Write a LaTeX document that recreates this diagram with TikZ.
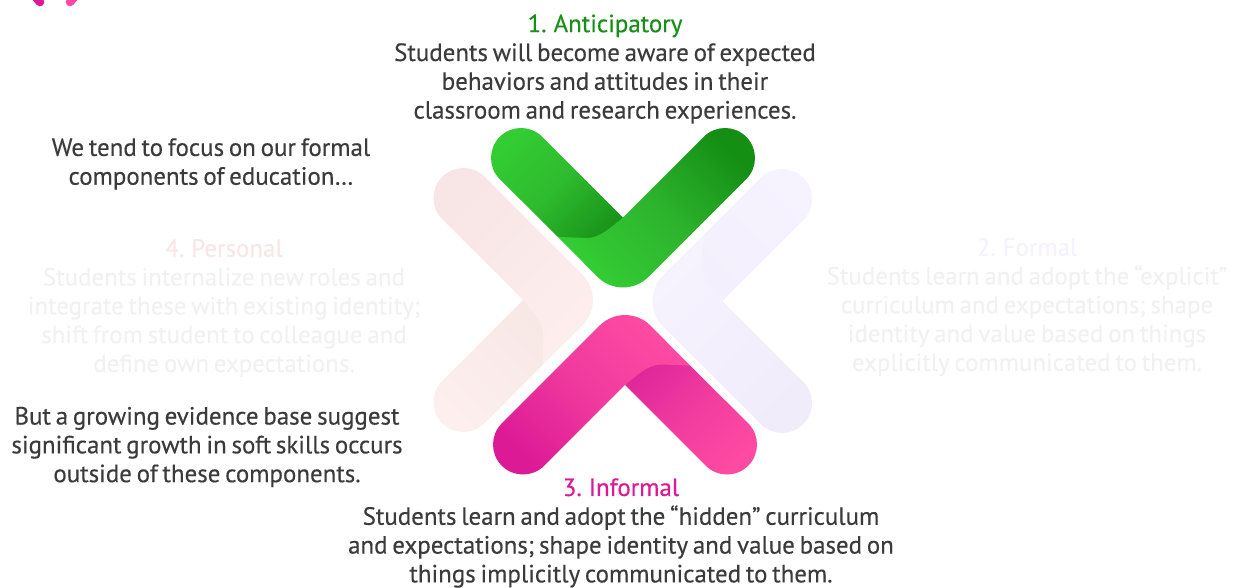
\documentclass[tikz,border=0pt]{standalone}
\usepackage{fontspec}
\setmainfont{PT Sans}[FakeBold=0.35,WordSpace=0.72]
\definecolor{txt}{HTML}{3B3B3B}
\definecolor{faint}{HTML}{F1F1F1}
\definecolor{gt}{HTML}{169016}
\definecolor{pt}{HTML}{DC1A96}
\definecolor{rt}{HTML}{FAE6E6}
\definecolor{lt}{HTML}{F5F1FD}
\definecolor{gA}{HTML}{33CC33}
\definecolor{gB}{HTML}{1A951A}
\definecolor{gC}{HTML}{148F14}
\definecolor{gM}{HTML}{2EBB2E}
\definecolor{gN}{HTML}{2DB42D}
\definecolor{mA}{HTML}{FF4AA3}
\definecolor{mB}{HTML}{E0289A}
\definecolor{mC}{HTML}{DC1A96}
\definecolor{mM}{HTML}{F23C9F}
\definecolor{mN}{HTML}{F03A9E}
\definecolor{rA}{HTML}{F8E5E5}
\definecolor{rB}{HTML}{FDEEEE}
\definecolor{rC}{HTML}{F7E8E6}
\definecolor{rD}{HTML}{FDEFEE}
\definecolor{lA}{HTML}{F6F2FE}
\definecolor{lB}{HTML}{F1ECFA}
\definecolor{lC}{HTML}{F3EFFC}
% #1 transform, #2 under-arm options, #3 top-layer options
\newcommand{\chevron}[3]{%
  \begin{scope}[#1]
    \path[#2] (-80.8,123.2) -- (0,42.4) -- (-30,10) -- (-65,23) -- (-123.2,80.8)
      arc[start angle=225,end angle=45,radius=30] -- cycle;
    \path[#3] (123.2,80.8) arc[start angle=-45,end angle=135,radius=30]
      -- (0,42.4) .. controls (-12,33) and (-23,22) .. (-36,22) -- (-65,23)
      -- (-25.5,-16.9) arc[start angle=225,end angle=315,radius=36] -- cycle;
  \end{scope}}
\tikzset{
  blocktext/.style={font=\fontsize{18.7}{21.6}\selectfont,align=center,inner sep=0pt,text=txt},
  fainttext/.style={blocktext,text=faint},
  logostroke/.style={line width=6.5pt,line cap=round},
  gradient/.style n args={3}{shade,bottom color=#1,top color=#2,shading angle=#3},
  gradientmid/.style n args={4}{shade,bottom color=#1,top color=#2,middle color=#4,shading angle=#3}}
\begin{document}
\begin{tikzpicture}[x=0.75pt,y=0.75pt]
\useasboundingbox (0,0) rectangle (1234,587);
\clip (0,0) rectangle (1234,587);
% logo remnant
\coordinate (la) at (34,592); \coordinate (lb) at (40,585);
\coordinate (lc) at (76,592); \coordinate (ld) at (70,585);
\draw[logostroke,pt] (la) -- (lb);
\draw[logostroke,mA] (lc) -- (ld);
% faint chevrons
\chevron{shift={(565.5,287)},rotate=90}
  {gradient={rD}{rC}{-45}}
  {gradient={rA}{rB}{-135}}
\chevron{shift={(680,286)},rotate=-90}
  {gradient={lC}{lA}{-45}}
  {gradient={lA}{lB}{-135}}
% green chevron
\chevron{shift={(623,327)}}
  {gradientmid={gA}{gB}{-135}{gM}}
  {gradientmid={gA}{gC}{-45}{gN}}
% magenta chevron
\chevron{shift={(625,244.5)},rotate=180}
  {gradientmid={mB}{mA}{-135}{mM}}
  {gradientmid={mC}{mA}{-45}{mN}}
% texts
\node[blocktext] (ant) at (605,518) {{\color{gt}1. Anticipatory}\\Students will become aware of expected\\behaviors and attitudes in their\\classroom and research experiences.};
\node[blocktext] (frm) at (211,423) {We tend to focus on our formal\\components of education…};
\node[fainttext] (per) at (224,279) {{\color{rt}4. Personal}\\Students internalize new roles and\\integrate these with existing identity;\\shift from student to colleague and\\define own expectations.};
\node[fainttext] (fo) at (1027,280) {{\color{lt}2. Formal}\\Students learn and adopt the “explicit”\\curriculum and expectations; shape\\identity and value based on things\\explicitly communicated to them.};
\node[blocktext] (gro) at (207,140) {But a growing evidence base suggest\\significant growth in soft skills occurs\\outside of these components.};
\node[blocktext] (inf) at (621,54) {{\color{pt}3. Informal}\\Students learn and adopt the “hidden” curriculum\\and expectations; shape identity and value based on\\things implicitly communicated to them.};
\end{tikzpicture}
\end{document}
